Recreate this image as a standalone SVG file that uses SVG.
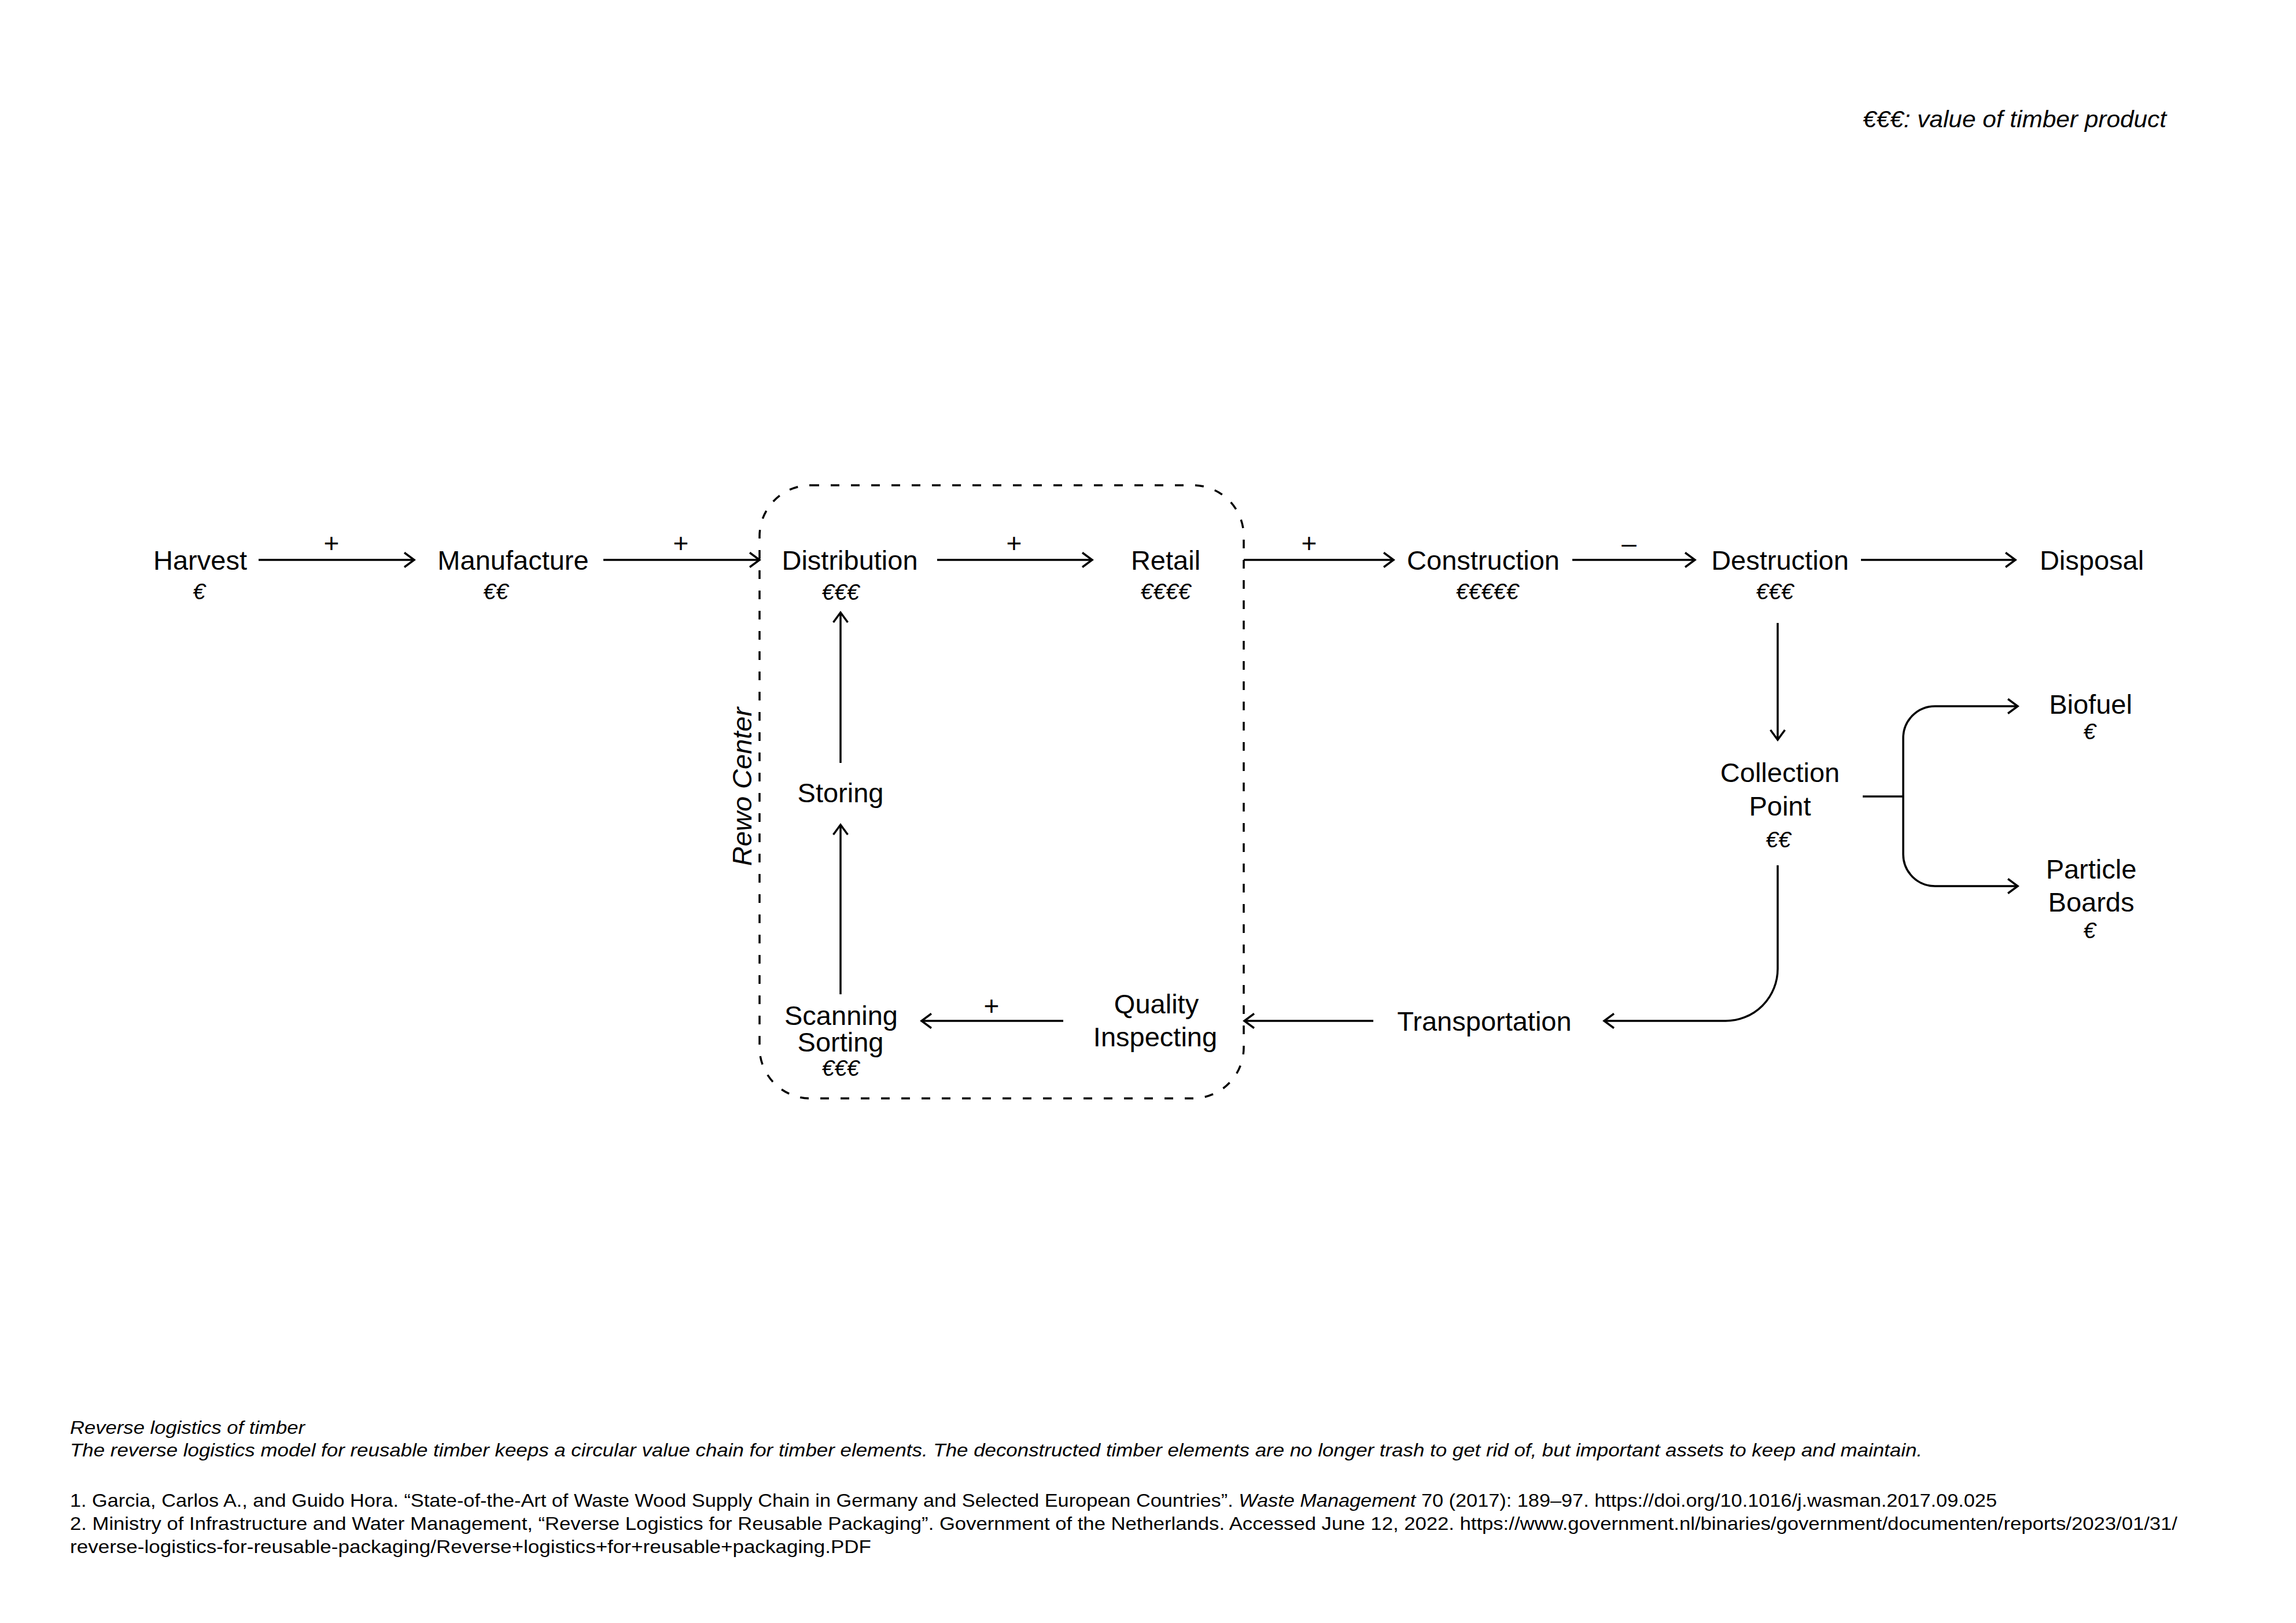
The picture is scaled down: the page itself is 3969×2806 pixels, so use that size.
<svg xmlns="http://www.w3.org/2000/svg" width="3969" height="2806" viewBox="0 0 3969 2806">
<style>
text{font-family:"Liberation Sans","Helvetica",Arial,sans-serif;fill:#000}
.lbl{font-size:47px;text-anchor:middle}
.eur{font-size:39px;font-style:italic;text-anchor:middle}
.sign{font-size:46px;text-anchor:middle}
.ln{fill:none;stroke:#000;stroke-width:3.5}
.arr{fill:none;stroke:#000;stroke-width:3.5;marker-end:url(#ah)}
.foot{font-size:32px}
.it{font-style:italic}
</style>
<defs>
<marker id="ah" markerUnits="userSpaceOnUse" viewBox="-22 -16 26 32" markerWidth="26" markerHeight="32" refX="0" refY="0" orient="auto">
<path d="M-17,-12.5 L0,0 L-17,12.5" fill="none" stroke="#000" stroke-width="3.5"/>
</marker>
</defs>
<rect width="3969" height="2806" fill="#fff"/>

<text x="3745" y="220" font-size="40" font-style="italic" text-anchor="end" textLength="525" lengthAdjust="spacingAndGlyphs">€€€: value of timber product</text>

<g id="rewo-center">
<rect x="1313" y="839" width="837" height="1060" rx="88" ry="88" fill="none" stroke="#000" stroke-width="3.5" stroke-dasharray="15 20"/>
<text transform="translate(1299,1360) rotate(-90)" font-size="47" font-style="italic" text-anchor="middle">Rewo Center</text>
</g>

<g id="connectors">
<line class="arr" x1="447" y1="968" x2="716" y2="968"/>
<line class="arr" x1="1043" y1="968" x2="1313" y2="968"/>
<line class="arr" x1="1620" y1="968" x2="1888" y2="968"/>
<line class="arr" x1="2150" y1="968" x2="2409" y2="968"/>
<line class="arr" x1="2718" y1="968" x2="2930" y2="968"/>
<line class="arr" x1="3217" y1="968" x2="3484" y2="968"/>
<line class="arr" x1="3073" y1="1077" x2="3073" y2="1279"/>
<path class="ln" d="M3220,1377 H3290"/>
<path class="arr" d="M3290,1377 V1276 A55,55 0 0 1 3345,1221 H3488"/>
<path class="arr" d="M3290,1377 V1477 A55,55 0 0 0 3345,1532 H3488"/>
<path class="arr" d="M3073,1496 V1675 A90,90 0 0 1 2983,1765 H2773"/>
<line class="arr" x1="2374" y1="1765" x2="2151" y2="1765"/>
<line class="arr" x1="1838" y1="1765" x2="1593" y2="1765"/>
<line class="arr" x1="1453" y1="1719" x2="1453" y2="1426"/>
<line class="arr" x1="1453" y1="1319" x2="1453" y2="1059"/>
<text class="sign" x="573" y="955">+</text>
<text class="sign" x="1177" y="955">+</text>
<text class="sign" x="1753" y="955">+</text>
<text class="sign" x="2263" y="955">+</text>
<text class="sign" x="2816" y="955">–</text>
<text class="sign" x="1714" y="1755">+</text>
</g>

<g id="harvest"><text class="lbl" x="346" y="985">Harvest</text><text class="eur" x="344" y="1036">€</text></g>
<g id="manufacture"><text class="lbl" x="887" y="985">Manufacture</text><text class="eur" x="857" y="1036">€€</text></g>
<g id="distribution"><text class="lbl" x="1469" y="985">Distribution</text><text class="eur" x="1453" y="1037">€€€</text></g>
<g id="retail"><text class="lbl" x="2015" y="985">Retail</text><text class="eur" x="2015" y="1036">€€€€</text></g>
<g id="construction"><text class="lbl" x="2564" y="985">Construction</text><text class="eur" x="2571" y="1036">€€€€€</text></g>
<g id="destruction"><text class="lbl" x="3077" y="985">Destruction</text><text class="eur" x="3068" y="1036">€€€</text></g>
<g id="disposal"><text class="lbl" x="3616" y="985">Disposal</text></g>
<g id="biofuel"><text class="lbl" x="3614" y="1234">Biofuel</text><text class="eur" x="3612" y="1278">€</text></g>
<g id="particle-boards"><text class="lbl" x="3615" y="1519">Particle</text><text class="lbl" x="3615" y="1576">Boards</text><text class="eur" x="3612" y="1622">€</text></g>
<g id="collection-point"><text class="lbl" x="3077" y="1352">Collection</text><text class="lbl" x="3077" y="1410">Point</text><text class="eur" x="3074" y="1465">€€</text></g>
<g id="transportation"><text class="lbl" x="2566" y="1782">Transportation</text></g>
<g id="quality-inspecting"><text class="lbl" x="1999" y="1752">Quality</text><text class="lbl" x="1997" y="1809">Inspecting</text></g>
<g id="scanning-sorting"><text class="lbl" x="1454" y="1772">Scanning</text><text class="lbl" x="1453" y="1818">Sorting</text><text class="eur" x="1453" y="1860">€€€</text></g>
<g id="storing"><text class="lbl" x="1453" y="1387">Storing</text></g>

<g id="caption">
<text class="foot it" x="121" y="2479" textLength="406" lengthAdjust="spacingAndGlyphs">Reverse logistics of timber</text>
<text class="foot it" x="121" y="2518" textLength="3202" lengthAdjust="spacingAndGlyphs">The reverse logistics model for reusable timber keeps a circular value chain for timber elements. The deconstructed timber elements are no longer trash to get rid of, but important assets to keep and maintain.</text>
<text class="foot" x="121" y="2605" textLength="3331" lengthAdjust="spacingAndGlyphs">1. Garcia, Carlos A., and Guido Hora. “State-of-the-Art of Waste Wood Supply Chain in Germany and Selected European Countries”. <tspan font-style="italic">Waste Management</tspan> 70 (2017): 189–97. https://doi.org/10.1016/j.wasman.2017.09.025</text>
<text class="foot" x="121" y="2645" textLength="3643" lengthAdjust="spacingAndGlyphs">2. Ministry of Infrastructure and Water Management, “Reverse Logistics for Reusable Packaging”. Government of the Netherlands. Accessed June 12, 2022. https://www.government.nl/binaries/government/documenten/reports/2023/01/31/</text>
<text class="foot" x="121" y="2685" textLength="1385" lengthAdjust="spacingAndGlyphs">reverse-logistics-for-reusable-packaging/Reverse+logistics+for+reusable+packaging.PDF</text>
</g>
</svg>
